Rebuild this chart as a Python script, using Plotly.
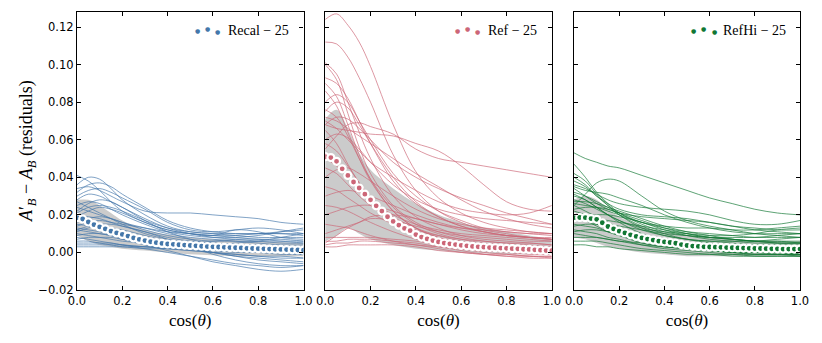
import plotly.graph_objects as go
from plotly.subplots import make_subplots


# ------------------------------------------
# Data
# ------------------------------------------

# x positions of the thin residual curves
run_cos = [0.0, 0.05, 0.1, 0.15, 0.2, 0.3, 0.4, 0.5, 0.6, 0.7, 0.8, 0.9, 1.0]

# x positions of the mean markers
mean_cos = [i / 40 for i in range(41)]

recal_runs = [
    [0.041, 0.038, 0.033, 0.027, 0.022, 0.016, 0.012, 0.010, 0.009, 0.008, 0.007, 0.007, 0.006],
    [0.036, 0.040, 0.039, 0.034, 0.028, 0.020, 0.014, 0.011, 0.010, 0.009, 0.008, 0.008, 0.008],
    [0.034, 0.035, 0.033, 0.030, 0.027, 0.022, 0.021, 0.021, 0.020, 0.019, 0.018, 0.016, 0.015],
    [0.030, 0.033, 0.034, 0.032, 0.029, 0.023, 0.016, 0.012, 0.011, 0.012, 0.013, 0.012, 0.010],
    [0.028, 0.031, 0.030, 0.027, 0.024, 0.018, 0.013, 0.010, 0.008, 0.007, 0.006, 0.005, 0.005],
    [0.025, 0.027, 0.026, 0.023, 0.020, 0.015, 0.011, 0.009, 0.008, 0.008, 0.009, 0.011, 0.013],
    [0.024, 0.022, 0.020, 0.018, 0.016, 0.013, 0.010, 0.008, 0.007, 0.006, 0.005, 0.004, 0.004],
    [0.022, 0.026, 0.028, 0.027, 0.024, 0.017, 0.011, 0.007, 0.004, 0.002, 0.001, 0.000, 0.000],
    [0.020, 0.019, 0.018, 0.016, 0.014, 0.011, 0.008, 0.006, 0.005, 0.004, 0.003, 0.003, 0.002],
    [0.018, 0.017, 0.015, 0.013, 0.011, 0.008, 0.005, 0.002, 0.000, -0.002, -0.004, -0.005, -0.006],
    [0.016, 0.018, 0.019, 0.018, 0.016, 0.012, 0.009, 0.007, 0.006, 0.006, 0.006, 0.006, 0.006],
    [0.015, 0.014, 0.012, 0.010, 0.008, 0.005, 0.003, 0.002, 0.001, 0.000, 0.000, 0.001, 0.001],
    [0.014, 0.016, 0.017, 0.016, 0.015, 0.013, 0.011, 0.010, 0.009, 0.009, 0.010, 0.010, 0.009],
    [0.013, 0.012, 0.011, 0.009, 0.007, 0.004, 0.001, -0.002, -0.005, -0.007, -0.009, -0.010, -0.009],
    [0.012, 0.011, 0.010, 0.009, 0.008, 0.007, 0.006, 0.005, 0.005, 0.004, 0.004, 0.003, 0.003],
    [0.011, 0.013, 0.014, 0.013, 0.012, 0.009, 0.006, 0.004, 0.002, 0.001, 0.000, -0.001, -0.001],
    [0.010, 0.009, 0.008, 0.007, 0.006, 0.005, 0.004, 0.004, 0.004, 0.005, 0.006, 0.008, 0.010],
    [0.009, 0.010, 0.010, 0.009, 0.008, 0.006, 0.004, 0.002, 0.000, -0.002, -0.003, -0.004, -0.005],
    [0.008, 0.007, 0.006, 0.005, 0.004, 0.003, 0.002, 0.001, 0.000, -0.001, -0.002, -0.002, -0.003],
    [0.007, 0.008, 0.008, 0.008, 0.007, 0.006, 0.005, 0.005, 0.006, 0.007, 0.007, 0.006, 0.005],
    [0.006, 0.006, 0.005, 0.005, 0.004, 0.002, 0.000, -0.002, -0.004, -0.006, -0.007, -0.008, -0.007],
    [0.005, 0.005, 0.005, 0.004, 0.004, 0.003, 0.003, 0.002, 0.002, 0.002, 0.002, 0.002, 0.002],
    [0.004, 0.004, 0.004, 0.004, 0.003, 0.003, 0.002, 0.001, 0.000, -0.001, -0.002, -0.003, -0.003],
    [0.003, 0.003, 0.003, 0.003, 0.003, 0.002, 0.002, 0.002, 0.001, 0.001, 0.001, 0.001, 0.001],
    [0.032, 0.036, 0.037, 0.035, 0.031, 0.024, 0.017, 0.013, 0.011, 0.010, 0.010, 0.011, 0.012],
    [0.027, 0.024, 0.021, 0.018, 0.015, 0.010, 0.007, 0.005, 0.003, 0.002, 0.001, 0.000, -0.001],
    [0.019, 0.022, 0.024, 0.023, 0.021, 0.016, 0.012, 0.010, 0.009, 0.012, 0.011, 0.008, 0.007],
    [0.017, 0.015, 0.013, 0.011, 0.010, 0.007, 0.005, 0.003, 0.002, 0.001, 0.001, 0.000, 0.000],
    [0.021, 0.024, 0.025, 0.024, 0.022, 0.017, 0.013, 0.011, 0.010, 0.010, 0.010, 0.010, 0.010],
    [0.012, 0.014, 0.015, 0.015, 0.014, 0.011, 0.007, 0.003, -0.001, -0.004, -0.006, -0.007, -0.007],
]

ref_runs = [
    [0.124, 0.127, 0.121, 0.112, 0.099, 0.068, 0.043, 0.029, 0.021, 0.016, 0.013, 0.011, 0.010],
    [0.112, 0.111, 0.104, 0.093, 0.080, 0.052, 0.033, 0.022, 0.016, 0.012, 0.010, 0.008, 0.007],
    [0.101, 0.095, 0.080, 0.064, 0.050, 0.030, 0.019, 0.013, 0.009, 0.007, 0.006, 0.005, 0.004],
    [0.100, 0.092, 0.074, 0.056, 0.042, 0.025, 0.016, 0.011, 0.008, 0.006, 0.005, 0.004, 0.003],
    [0.093, 0.090, 0.082, 0.070, 0.058, 0.038, 0.026, 0.019, 0.014, 0.011, 0.009, 0.008, 0.007],
    [0.090, 0.083, 0.068, 0.052, 0.039, 0.022, 0.013, 0.008, 0.005, 0.003, 0.002, 0.001, 0.000],
    [0.080, 0.084, 0.080, 0.070, 0.060, 0.042, 0.030, 0.022, 0.017, 0.013, 0.011, 0.010, 0.009],
    [0.076, 0.072, 0.062, 0.050, 0.039, 0.024, 0.015, 0.010, 0.007, 0.005, 0.004, 0.003, 0.002],
    [0.072, 0.070, 0.066, 0.062, 0.058, 0.050, 0.042, 0.035, 0.028, 0.022, 0.018, 0.015, 0.013],
    [0.055, 0.062, 0.068, 0.069, 0.067, 0.063, 0.055, 0.050, 0.048, 0.046, 0.044, 0.042, 0.040],
    [0.068, 0.066, 0.065, 0.064, 0.063, 0.062, 0.058, 0.054, 0.046, 0.036, 0.027, 0.023, 0.022],
    [0.070, 0.066, 0.060, 0.054, 0.048, 0.040, 0.033, 0.027, 0.023, 0.021, 0.020, 0.021, 0.025],
    [0.065, 0.058, 0.047, 0.037, 0.029, 0.019, 0.013, 0.009, 0.006, 0.004, 0.003, 0.002, 0.001],
    [0.060, 0.063, 0.061, 0.055, 0.048, 0.036, 0.028, 0.023, 0.020, 0.018, 0.017, 0.016, 0.015],
    [0.058, 0.054, 0.046, 0.037, 0.029, 0.018, 0.011, 0.007, 0.004, 0.002, 0.001, 0.000, -0.001],
    [0.050, 0.046, 0.040, 0.034, 0.028, 0.020, 0.015, 0.012, 0.010, 0.009, 0.008, 0.007, 0.006],
    [0.045, 0.042, 0.036, 0.030, 0.025, 0.017, 0.012, 0.009, 0.007, 0.006, 0.005, 0.005, 0.004],
    [0.040, 0.044, 0.045, 0.042, 0.038, 0.030, 0.023, 0.018, 0.015, 0.013, 0.012, 0.011, 0.010],
    [0.035, 0.033, 0.029, 0.025, 0.021, 0.015, 0.010, 0.007, 0.005, 0.004, 0.003, 0.002, 0.002],
    [0.030, 0.032, 0.033, 0.032, 0.030, 0.025, 0.020, 0.016, 0.013, 0.011, 0.009, 0.008, 0.007],
    [0.025, 0.024, 0.022, 0.019, 0.016, 0.011, 0.007, 0.004, 0.002, 0.001, 0.000, -0.001, -0.001],
    [0.020, 0.022, 0.024, 0.025, 0.025, 0.022, 0.018, 0.015, 0.013, 0.012, 0.011, 0.010, 0.010],
    [0.005, 0.009, 0.013, 0.016, 0.019, 0.020, 0.018, 0.015, 0.012, 0.010, 0.009, 0.008, 0.008],
    [0.015, 0.014, 0.013, 0.011, 0.009, 0.006, 0.004, 0.003, 0.002, 0.001, 0.001, 0.000, 0.000],
    [0.008, 0.008, 0.008, 0.008, 0.008, 0.007, 0.006, 0.004, 0.002, 0.000, -0.001, -0.002, -0.002],
    [0.006, 0.006, 0.007, 0.007, 0.007, 0.006, 0.005, 0.003, 0.001, -0.001, -0.002, -0.003, -0.003],
    [0.004, 0.005, 0.005, 0.006, 0.006, 0.005, 0.004, 0.002, 0.000, -0.001, -0.002, -0.002, -0.003],
    [0.003, 0.003, 0.004, 0.004, 0.004, 0.004, 0.003, 0.001, 0.000, -0.001, -0.001, -0.002, -0.002],
    [0.086, 0.078, 0.064, 0.050, 0.038, 0.022, 0.013, 0.008, 0.005, 0.004, 0.003, 0.002, 0.002],
    [0.075, 0.080, 0.077, 0.068, 0.058, 0.040, 0.027, 0.019, 0.014, 0.011, 0.009, 0.008, 0.007],
    [0.068, 0.072, 0.071, 0.066, 0.060, 0.048, 0.040, 0.034, 0.029, 0.025, 0.021, 0.018, 0.015],
    [0.010, 0.012, 0.014, 0.016, 0.018, 0.017, 0.014, 0.011, 0.009, 0.008, 0.007, 0.006, 0.006],
]

refhi_runs = [
    [0.053, 0.050, 0.048, 0.046, 0.045, 0.041, 0.037, 0.033, 0.029, 0.026, 0.023, 0.021, 0.020],
    [0.047, 0.040, 0.032, 0.026, 0.021, 0.015, 0.011, 0.009, 0.008, 0.007, 0.006, 0.006, 0.006],
    [0.042, 0.038, 0.031, 0.025, 0.020, 0.013, 0.009, 0.007, 0.005, 0.004, 0.003, 0.003, 0.002],
    [0.040, 0.036, 0.030, 0.025, 0.021, 0.016, 0.013, 0.011, 0.010, 0.009, 0.008, 0.008, 0.008],
    [0.025, 0.031, 0.037, 0.039, 0.038, 0.030, 0.022, 0.017, 0.014, 0.012, 0.010, 0.009, 0.008],
    [0.038, 0.035, 0.030, 0.026, 0.023, 0.020, 0.019, 0.018, 0.016, 0.014, 0.013, 0.012, 0.012],
    [0.036, 0.034, 0.031, 0.028, 0.026, 0.024, 0.023, 0.022, 0.020, 0.017, 0.015, 0.015, 0.017],
    [0.034, 0.030, 0.026, 0.023, 0.021, 0.019, 0.018, 0.017, 0.016, 0.014, 0.012, 0.011, 0.010],
    [0.032, 0.030, 0.027, 0.024, 0.020, 0.014, 0.010, 0.007, 0.006, 0.005, 0.004, 0.004, 0.004],
    [0.030, 0.028, 0.024, 0.020, 0.017, 0.012, 0.009, 0.007, 0.006, 0.006, 0.006, 0.007, 0.008],
    [0.028, 0.026, 0.023, 0.020, 0.017, 0.013, 0.011, 0.010, 0.009, 0.009, 0.010, 0.012, 0.013],
    [0.027, 0.027, 0.026, 0.024, 0.022, 0.018, 0.014, 0.011, 0.009, 0.007, 0.006, 0.005, 0.005],
    [0.025, 0.022, 0.019, 0.016, 0.013, 0.009, 0.006, 0.004, 0.003, 0.002, 0.001, 0.001, 0.000],
    [0.023, 0.024, 0.024, 0.023, 0.021, 0.017, 0.013, 0.010, 0.008, 0.007, 0.006, 0.006, 0.005],
    [0.022, 0.020, 0.017, 0.014, 0.011, 0.007, 0.004, 0.003, 0.002, 0.001, 0.000, 0.000, -0.001],
    [0.020, 0.019, 0.018, 0.017, 0.016, 0.014, 0.012, 0.010, 0.008, 0.007, 0.006, 0.005, 0.005],
    [0.018, 0.017, 0.015, 0.013, 0.011, 0.008, 0.006, 0.004, 0.003, 0.002, 0.002, 0.001, 0.001],
    [0.017, 0.019, 0.020, 0.020, 0.019, 0.016, 0.012, 0.009, 0.007, 0.006, 0.005, 0.005, 0.005],
    [0.015, 0.014, 0.013, 0.011, 0.009, 0.006, 0.004, 0.002, 0.001, 0.000, -0.001, -0.001, -0.001],
    [0.014, 0.015, 0.015, 0.015, 0.014, 0.012, 0.010, 0.009, 0.008, 0.008, 0.008, 0.009, 0.010],
    [0.012, 0.011, 0.010, 0.008, 0.007, 0.004, 0.002, 0.001, 0.000, -0.001, -0.001, -0.001, -0.001],
    [0.011, 0.012, 0.012, 0.011, 0.010, 0.008, 0.006, 0.004, 0.003, 0.002, 0.002, 0.001, 0.001],
    [0.010, 0.009, 0.008, 0.007, 0.006, 0.004, 0.003, 0.002, 0.001, 0.000, 0.000, -0.001, -0.001],
    [0.008, 0.008, 0.008, 0.007, 0.006, 0.005, 0.003, 0.002, 0.001, 0.000, -0.001, -0.001, -0.002],
    [0.006, 0.006, 0.006, 0.005, 0.004, 0.002, 0.001, 0.000, -0.001, -0.001, -0.002, -0.002, -0.002],
    [0.004, 0.004, 0.003, 0.003, 0.002, 0.001, 0.000, -0.001, -0.001, -0.002, -0.002, -0.002, -0.002],
    [0.035, 0.033, 0.032, 0.031, 0.029, 0.025, 0.020, 0.016, 0.013, 0.011, 0.010, 0.010, 0.010],
    [0.026, 0.025, 0.024, 0.022, 0.020, 0.016, 0.014, 0.013, 0.013, 0.012, 0.012, 0.013, 0.014],
    [0.031, 0.028, 0.024, 0.020, 0.016, 0.010, 0.006, 0.004, 0.003, 0.002, 0.001, 0.001, 0.001],
    [0.019, 0.017, 0.014, 0.011, 0.009, 0.005, 0.003, 0.002, 0.001, 0.000, 0.000, 0.000, -0.001],
]

recal_mean = [
    0.0185, 0.0178, 0.0162, 0.0148, 0.0136, 0.0125, 0.0113, 0.0104, 0.0096, 0.0087,
    0.0077, 0.0069, 0.0063, 0.0057, 0.0052, 0.0048, 0.0045, 0.0043, 0.0041, 0.0039,
    0.0037, 0.0035, 0.0033, 0.0031, 0.0030, 0.0029, 0.0027, 0.0026, 0.0025, 0.0024,
    0.0022, 0.0021, 0.0020, 0.0019, 0.0018, 0.0017, 0.0016, 0.0015, 0.0014, 0.0013,
    0.0012,
]

ref_mean = [
    0.0510, 0.0505, 0.0485, 0.0445, 0.0410, 0.0375, 0.0343, 0.0310, 0.0280, 0.0248,
    0.0220, 0.0190, 0.0165, 0.0145, 0.0128, 0.0116, 0.0095, 0.0082, 0.0072, 0.0063,
    0.0056, 0.0050, 0.0046, 0.0042, 0.0038, 0.0035, 0.0032, 0.0030, 0.0028, 0.0026,
    0.0025, 0.0023, 0.0022, 0.0020, 0.0019, 0.0017, 0.0016, 0.0014, 0.0012, 0.0010,
    0.0009,
]

refhi_mean = [
    0.0185, 0.0186, 0.0185, 0.0180, 0.0176, 0.0158, 0.0138, 0.0125, 0.0113, 0.0104,
    0.0094, 0.0085, 0.0077, 0.0071, 0.0066, 0.0060, 0.0056, 0.0053, 0.0049, 0.0042,
    0.0037, 0.0034, 0.0032, 0.0030, 0.0029, 0.0028, 0.0027, 0.0026, 0.0025, 0.0024,
    0.0023, 0.0022, 0.0021, 0.0021, 0.0020, 0.0019, 0.0019, 0.0018, 0.0018, 0.0018,
    0.0018,
]

# grey spread band (upper / lower edge) on the run_cos grid
recal_band_hi = [0.028, 0.028, 0.025, 0.021, 0.017, 0.012, 0.0095, 0.008, 0.007, 0.0065, 0.006, 0.0055, 0.005]
recal_band_lo = [0.009, 0.006, 0.004, 0.003, 0.002, 0.001, 0.000, -0.001, -0.0015, -0.002, -0.002, -0.002, -0.002]
ref_band_hi = [0.071, 0.076, 0.066, 0.053, 0.044, 0.034, 0.026, 0.020, 0.016, 0.013, 0.011, 0.009, 0.007]
ref_band_lo = [0.006, 0.009, 0.013, 0.010, 0.007, 0.004, 0.002, 0.001, 0.000, -0.0005, -0.001, -0.001, -0.001]
refhi_band_hi = [0.028, 0.030, 0.028, 0.023, 0.019, 0.014, 0.011, 0.009, 0.008, 0.007, 0.0065, 0.006, 0.006]
refhi_band_lo = [0.008, 0.007, 0.005, 0.003, 0.002, 0.000, -0.001, -0.002, -0.002, -0.002, -0.002, -0.002, -0.002]

labels = ["Recal \u2212 25", "Ref \u2212 25", "RefHi \u2212 25"]
colors = ["#4477AA", "#CC6677", "#117733"]
line_colors = ["rgba(68,119,170,0.8)", "rgba(204,102,119,0.8)", "rgba(17,119,51,0.8)"]

y_ticks = [-0.02, 0.0, 0.02, 0.04, 0.06, 0.08, 0.10, 0.12]
y_tick_text = ["\u22120.02", "0.00", "0.02", "0.04", "0.06", "0.08", "0.10", "0.12"]
x_ticks = [0.0, 0.2, 0.4, 0.6, 0.8, 1.0]
x_tick_text = ["0.0", "0.2", "0.4", "0.6", "0.8", "1.0"]


# ------------------------------------------
# Figure
# ------------------------------------------

SERIF = "Liberation Serif"
SANS = "DejaVu Sans"

panels = [
    (recal_runs, recal_mean, recal_band_hi, recal_band_lo),
    (ref_runs, ref_mean, ref_band_hi, ref_band_lo),
    (refhi_runs, refhi_mean, refhi_band_hi, refhi_band_lo),
]

fig = make_subplots(rows=1, cols=3)

for i, (runs, mean, band_hi, band_lo) in enumerate(panels):
    col = i + 1

    # spread band
    fig.add_trace(
        go.Scatter(
            x=run_cos, y=band_lo, mode="lines", line=dict(width=0, shape="spline"),
            showlegend=False, hoverinfo="skip"
        ),
        row=1, col=col
    )
    fig.add_trace(
        go.Scatter(
            x=run_cos, y=band_hi, mode="lines", line=dict(width=0, shape="spline"),
            fill="tonexty", fillcolor="rgba(190,190,190,0.8)",
            showlegend=False, hoverinfo="skip"
        ),
        row=1, col=col
    )

    # individual residual curves
    for run in runs:
        fig.add_trace(
            go.Scatter(
                x=run_cos, y=run, mode="lines",
                line=dict(color=line_colors[i], width=0.85, shape="spline", smoothing=1.0),
                showlegend=False, hoverinfo="skip"
            ),
            row=1, col=col
        )

    # mean curve
    fig.add_trace(
        go.Scatter(
            x=mean_cos, y=mean, mode="markers",
            marker=dict(size=7, color=colors[i], line=dict(color="white", width=2.2)),
            showlegend=False, name=labels[i]
        ),
        row=1, col=col
    )

domains = [[0.0, 0.3133], [0.3433, 0.6567], [0.6875, 1.0]]

for i in range(3):
    n = "" if i == 0 else str(i + 1)
    fig.layout["xaxis" + n].update(
        domain=domains[i], range=[0, 1],
        tickvals=x_ticks, ticktext=x_tick_text,
        ticks="inside", ticklen=4, tickcolor="black",
        showline=True, linecolor="black", linewidth=1.2, mirror="allticks",
        showgrid=False, zeroline=False,
        tickfont=dict(family=SANS, size=11.5, color="black"),
        title=dict(text="cos(<i>\u03b8</i>)", font=dict(family=SERIF, size=17, color="black"), standoff=7),
    )
    fig.layout["yaxis" + n].update(
        range=[-0.02, 0.128],
        tickvals=y_ticks, ticktext=y_tick_text,
        showticklabels=(i == 0),
        ticks="inside", ticklen=4, tickcolor="black",
        showline=True, linecolor="black", linewidth=1.2, mirror="allticks",
        showgrid=False, zeroline=False,
        tickfont=dict(family=SANS, size=11.5, color="black"),
    )

    # legend: three dots + label
    xr = "x" + n + " domain"
    yr = "y" + n + " domain"
    dot_x = [0.53, 0.575, 0.62] if i != 1 else [0.585, 0.627, 0.67]
    dot_dy = [0.0, 0.006, -0.004]
    for dx, dy in zip(dot_x, dot_dy):
        fig.add_annotation(
            xref=xr, yref=yr, x=dx, y=0.933 + dy,
            text="\u25cf", showarrow=False,
            font=dict(family=SANS, size=6, color=colors[i]),
            xanchor="center", yanchor="middle"
        )
    fig.add_annotation(
        xref=xr, yref=yr, x=0.945, y=0.933,
        text=labels[i], showarrow=False,
        font=dict(family=SERIF, size=14, color="black"),
        xanchor="right", yanchor="middle"
    )

# y-axis title
fig.add_annotation(
    xref="paper", yref="paper", x=-0.069, y=0.5,
    text="<i>A</i>\u2032<sub><i>B</i></sub> \u2212 <i>A</i><sub><i>B</i></sub> (residuals)",
    textangle=-90, showarrow=False,
    font=dict(family=SERIF, size=18, color="black"),
    xanchor="center", yanchor="middle"
)

# the page adds an 8 px body margin, so the margins are shifted to compensate
fig.update_layout(
    width=822,
    height=343,
    margin=dict(l=69, r=30, t=4, b=61),
    plot_bgcolor="white",
    paper_bgcolor="white",
    showlegend=False,
)

fig.write_html("out.html")
